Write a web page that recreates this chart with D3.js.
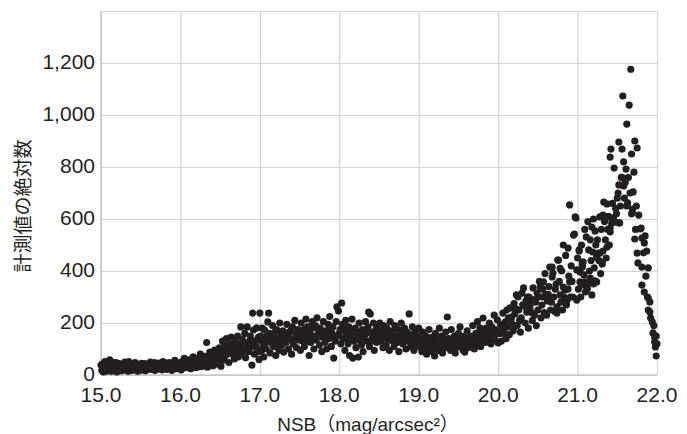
<!DOCTYPE html>
<html>
<head>
<meta charset="utf-8">
<script src="https://cdn.jsdelivr.net/npm/d3@7"></script>
<style>
  html, body { margin: 0; padding: 0; background: #fff; }
  svg { display: block; }
  .grid line { stroke: #d4d4d4; stroke-width: 1.2px; }
  .grid path { display: none; }
  .tick-label { font-family: "Liberation Sans", Arial, sans-serif; font-size: 21px; fill: #231f20; }
  .axis-title { font-family: "Liberation Sans", "Noto Sans CJK JP", sans-serif; fill: #231f20; }
</style>
</head>
<body>
<svg id="chart" width="687" height="434"></svg>
<script>
// --- data, [NSB, count] ---
const xTicks = [15, 16, 17, 18, 19, 20, 21, 22];
const yTicks = [0, 200, 400, 600, 800, 1000, 1200, 1400];
const yLabelTicks = [0, 200, 400, 600, 800, 1000, 1200];

const seg15 = [[15.00,38],[15.01,18],[15.02,28],[15.03,12],[15.04,45],[15.05,25],[15.06,35],[15.07,15],[15.08,50],[15.09,30],[15.10,22],[15.11,58],[15.12,40],[15.13,14],[15.14,33],[15.15,26],[15.16,48],[15.18,20],[15.19,36],[15.20,12],[15.21,30],[15.23,44],[15.24,24],[15.26,16],[15.27,38],[15.28,28],[15.30,50],[15.31,20],[15.33,34],[15.34,14],[15.36,42],[15.37,26],[15.39,18],[15.40,36],[15.42,30],[15.43,48],[15.45,22],[15.46,14],[15.48,38],[15.50,28],[15.51,45],[15.53,20],[15.54,32],[15.56,16],[15.57,40],[15.59,26],[15.60,34],[15.62,50],[15.63,22],[15.65,30],[15.66,42],[15.68,18],[15.69,36],[15.71,28],[15.72,46],[15.74,24],[15.75,34],[15.77,20],[15.78,52],[15.80,30],[15.81,40],[15.83,22],[15.84,36],[15.86,48],[15.87,28],[15.89,18],[15.90,42],[15.92,32],[15.93,56],[15.95,24],[15.96,38],[15.98,46],[15.99,30],
  [15.02,42],[15.05,52],[15.08,20],[15.12,28],[15.15,38],[15.19,48],[15.22,18],[15.25,32],[15.29,40],[15.32,26],[15.35,52],[15.38,32],[15.41,22],[15.44,40],[15.47,30],[15.49,18],[15.52,36],[15.55,44],[15.58,22],[15.61,40],[15.64,26],[15.67,48],[15.70,22],[15.73,38],[15.76,42],[15.79,26],[15.82,46],[15.85,32],[15.88,40],[15.91,24],[15.94,44],[15.97,34]];

const seg16 = [[16.01,20],[16.02,52],[16.04,38],[16.05,64],[16.07,28],[16.08,46],[16.10,34],[16.11,58],[16.13,24],[16.14,42],[16.16,70],[16.17,36],[16.19,50],[16.20,28],[16.22,62],[16.23,44],[16.25,80],[16.26,32],[16.28,56],[16.29,40],[16.31,72],[16.32,48],[16.33,125],[16.34,30],[16.35,60],[16.37,88],[16.38,44],[16.40,66],[16.41,36],[16.43,96],[16.44,54],[16.46,76],[16.47,42],[16.49,104],[16.50,62],[16.51,34],
  [16.03,42],[16.06,30],[16.09,56],[16.12,44],[16.15,30],[16.18,60],[16.21,40],[16.24,52],[16.27,68],[16.30,36],[16.33,54],[16.36,44],[16.39,78],[16.42,50],[16.45,66],[16.48,84],
  [16.52,90],[16.53,130],[16.54,58],[16.56,110],[16.57,75],[16.58,140],[16.60,96],[16.61,48],[16.62,120],[16.64,146],[16.65,80],[16.66,104],[16.68,62],[16.69,130],[16.70,92],[16.72,150],[16.73,70],[16.74,116],[16.76,185],[16.77,86],[16.78,136],[16.80,100],[16.81,160],[16.82,66],[16.84,185],[16.85,120],[16.86,90],[16.88,150],[16.89,108],[16.90,38],[16.91,238],[16.92,173],[16.93,80],[16.94,130],[16.96,181],[16.97,100],[16.98,145],[16.99,60],
  [16.55,70],[16.59,100],[16.63,88],[16.67,112],[16.71,78],[16.75,98],[16.79,125],[16.83,95],[16.87,130],[16.95,110],[16.98,90]];

const seg17 = [[17.00,238],[17.01,150],[17.02,95],[17.03,180],[17.04,120],[17.05,70],[17.06,173],[17.07,135],[17.08,100],[17.10,204],[17.11,238],[17.12,160],[17.13,85],[17.14,125],[17.16,190],[17.17,110],[17.18,150],[17.20,75],[17.21,175],[17.22,130],[17.24,95],[17.25,200],[17.26,145],[17.28,115],[17.29,170],[17.30,88],[17.32,155],[17.33,125],[17.34,195],[17.36,100],[17.37,165],[17.38,140],[17.40,80],[17.41,185],[17.42,120],[17.44,210],[17.45,150],[17.46,105],[17.48,175],[17.49,135],
  [17.50,160],[17.51,95],[17.52,200],[17.54,130],[17.55,175],[17.56,110],[17.58,215],[17.59,145],[17.60,185],[17.62,75],[17.63,165],[17.64,125],[17.66,205],[17.67,150],[17.68,100],[17.70,190],[17.71,135],[17.72,220],[17.74,160],[17.75,115],[17.76,180],[17.78,90],[17.79,145],[17.80,205],[17.82,125],[17.83,170],[17.84,100],[17.86,195],[17.87,140],[17.88,225],[17.90,110],[17.91,160],[17.92,185],[17.93,65],[17.95,130],[17.96,205],[17.97,262],[17.98,150],[17.99,246],
  [17.02,130],[17.06,115],[17.09,150],[17.15,140],[17.19,165],[17.23,110],[17.27,160],[17.31,130],[17.35,145],[17.39,170],[17.43,135],[17.47,160],[17.53,145],[17.57,165],[17.61,130],[17.65,180],[17.69,140],[17.73,175],[17.77,155],[17.81,165],[17.85,150],[17.89,175],[17.94,145]];

const seg18 = [[18.01,175],[18.02,120],[18.03,277],[18.04,195],[18.05,140],[18.07,95],[18.08,210],[18.09,160],[18.11,120],[18.12,185],[18.13,75],[18.15,150],[18.16,215],[18.17,65],[18.18,130],[18.20,180],[18.21,105],[18.22,160],[18.24,69],[18.25,200],[18.26,140],[18.28,115],[18.29,175],[18.30,90],[18.32,155],[18.33,205],[18.35,130],[18.36,185],[18.37,242],[18.38,110],[18.39,235],[18.40,165],[18.42,145],[18.43,200],[18.44,95],[18.46,175],[18.47,125],[18.48,190],[18.49,150],
  [18.51,200],[18.52,130],[18.54,170],[18.55,105],[18.56,190],[18.58,145],[18.59,115],[18.60,180],[18.62,155],[18.63,95],[18.64,205],[18.66,135],[18.67,170],[18.69,110],[18.70,190],[18.71,150],[18.73,125],[18.74,175],[18.75,90],[18.77,160],[18.78,200],[18.80,120],[18.81,145],[18.82,180],[18.84,100],[18.85,165],[18.86,130],[18.88,235],[18.89,155],[18.90,110],[18.92,185],[18.93,140],[18.94,95],[18.96,170],[18.97,120],[18.98,150],
  [18.00,160],[18.06,175],[18.10,140],[18.14,170],[18.19,150],[18.23,135],[18.27,165],[18.31,140],[18.34,160],[18.41,130],[18.45,155],[18.50,170],[18.53,150],[18.57,160],[18.61,135],[18.65,150],[18.68,130],[18.72,145],[18.76,140],[18.79,170],[18.83,140],[18.87,150],[18.91,135],[18.95,150],[18.99,130]];

const seg19 = [[19.00,180],[19.01,110],[19.02,140],[19.04,90],[19.05,165],[19.06,125],[19.08,100],[19.09,150],[19.10,80],[19.12,130],[19.13,175],[19.14,105],[19.16,145],[19.17,90],[19.18,120],[19.20,73],[19.21,160],[19.22,110],[19.24,135],[19.25,95],[19.26,180],[19.28,120],[19.29,150],[19.30,85],[19.32,130],[19.33,105],[19.34,165],[19.36,223],[19.37,115],[19.38,140],[19.40,95],[19.41,175],[19.42,125],[19.44,105],[19.45,150],[19.46,85],[19.48,108],[19.49,135],
  [19.50,160],[19.52,185],[19.53,110],[19.54,135],[19.56,95],[19.57,150],[19.58,88],[19.60,125],[19.61,170],[19.62,105],[19.64,140],[19.65,146],[19.66,115],[19.68,190],[19.69,130],[19.70,100],[19.72,160],[19.73,120],[19.74,205],[19.76,145],[19.77,181],[19.78,110],[19.80,135],[19.81,219],[19.82,160],[19.84,125],[19.85,180],[19.87,162],[19.88,140],[19.89,200],[19.91,120],[19.92,185],[19.93,155],[19.95,230],[19.96,135],[19.97,175],[19.99,212],[20.00,123],
  [19.03,120],[19.07,140],[19.11,115],[19.15,125],[19.19,140],[19.23,120],[19.27,105],[19.31,140],[19.35,120],[19.39,110],[19.43,135],[19.47,120],[19.51,125],[19.55,110],[19.59,140],[19.63,120],[19.67,150],[19.71,135],[19.75,125],[19.79,160],[19.83,145],[19.86,130],[19.90,165],[19.94,145],[19.98,160]];

const seg20 = [[20.02,160],[20.03,195],[20.04,130],[20.06,238],[20.07,175],[20.09,204],[20.10,140],[20.11,250],[20.12,185],[20.14,155],[20.15,258],[20.16,210],[20.17,223],[20.19,170],[20.20,275],[20.21,235],[20.23,308],[20.24,190],[20.25,300],[20.26,250],[20.28,165],[20.29,220],[20.30,315],[20.31,270],[20.32,335],[20.34,200],[20.35,285],[20.36,242],[20.38,180],[20.39,300],[20.40,260],[20.41,277],[20.43,210],[20.44,335],[20.45,290],[20.46,231],[20.48,190],[20.49,315],
  [20.50,250],[20.52,360],[20.53,338],[20.54,220],[20.55,269],[20.56,300],[20.57,358],[20.58,240],[20.59,390],[20.60,310],[20.61,230],[20.62,285],[20.64,340],[20.65,415],[20.65,288],[20.66,250],[20.68,377],[20.68,415],[20.69,392],[20.70,300],[20.71,245],[20.72,330],[20.74,262],[20.74,238],[20.75,442],[20.76,442],[20.77,360],[20.78,308],[20.79,280],[20.80,400],[20.81,250],[20.82,338],[20.82,500],[20.84,327],[20.85,460],[20.86,270],[20.87,288],[20.88,488],[20.89,380],[20.90,654],[20.90,358],[20.91,300],[20.92,420],[20.94,300],[20.95,538],[20.96,542],[20.97,608],[20.98,604],[20.99,404],[20.99,292],[20.99,288],
  [20.05,185],[20.08,160],[20.13,220],[20.18,195],[20.22,255],[20.27,210],[20.33,265],[20.37,300],[20.42,240],[20.47,280],[20.51,300],[20.56,330],[20.63,310],[20.67,280],[20.73,350],[20.78,410],[20.83,300],[20.88,330],[20.93,360]];

const seg21 = [[21.01,330],[21.02,477],[21.02,481],[21.03,396],[21.03,358],[21.04,300],[21.05,346],[21.06,423],[21.06,431],[21.06,415],[21.07,435],[21.08,385],[21.09,358],[21.10,320],[21.11,531],[21.12,335],[21.12,331],[21.13,354],[21.14,481],[21.15,400],[21.16,373],[21.17,440],[21.18,569],[21.18,308],[21.19,473],[21.20,350],[21.21,412],[21.22,554],[21.22,362],[21.24,454],[21.24,358],[21.25,520],[21.26,469],[21.28,608],[21.28,469],[21.29,390],[21.31,427],[21.31,431],[21.32,477],[21.32,615],[21.33,665],[21.35,520],[21.37,658],[21.37,492],[21.37,608],[21.38,560],
  [21.40,500],[21.41,565],[21.41,550],[21.41,838],[21.42,869],[21.43,585],[21.45,604],[21.46,796],[21.47,588],[21.48,640],[21.50,680],[21.51,700],[21.52,585],[21.52,731],[21.52,896],[21.53,585],[21.55,760],[21.56,869],[21.57,1073],[21.57,758],[21.58,727],[21.59,680],[21.60,740],[21.61,792],[21.62,965],[21.62,650],[21.63,662],[21.65,1038],[21.66,700],[21.67,1176],[21.68,620],[21.69,638],[21.69,627],[21.70,704],[21.72,900],[21.72,523],[21.73,560],[21.75,873],[21.75,469],[21.76,431],[21.77,615],[21.79,562],[21.80,565],[21.81,527],[21.81,415],[21.81,346],[21.83,470],[21.84,508],[21.84,319],[21.85,535],[21.86,380],[21.87,477],[21.88,300],[21.89,412],[21.89,296],[21.89,250],[21.91,281],[21.91,242],[21.92,219],[21.94,204],[21.95,162],[21.96,190],[21.97,146],[21.97,127],[21.98,108],[21.99,150],[21.99,73],[22.00,120],
  [21.00,450],[21.05,500],[21.09,560],[21.13,590],[21.16,520],[21.20,600],[21.23,500],[21.27,440],[21.30,560],[21.34,590],[21.36,450],[21.39,610],[21.44,660],[21.49,620],[21.54,650],[21.58,820],[21.64,760],[21.68,850],[21.71,780],[21.74,650]];

const points = [].concat(seg15, seg16, seg17, seg18, seg19, seg20, seg21);

const width = 687, height = 434;
const margin = { top: 11, right: 30, bottom: 59, left: 101 };
const svg = d3.select("#chart");

const x = d3.scaleLinear().domain([15, 22]).range([margin.left, width - margin.right]);
const y = d3.scaleLinear().domain([0, 1400]).range([height - margin.bottom, margin.top]);

// grid
svg.append("g").attr("class", "grid")
    .attr("transform", `translate(0,${margin.top})`)
    .call(d3.axisBottom(x).tickValues(xTicks).tickSize(y(0) - margin.top).tickFormat(""));
svg.append("g").attr("class", "grid")
    .attr("transform", `translate(${margin.left},0)`)
    .call(d3.axisRight(y).tickValues(yTicks).tickSize(x(22) - margin.left).tickFormat(""));

// axis lines a touch darker
svg.append("line").attr("x1", x(15)).attr("x2", x(15)).attr("y1", y(1400)).attr("y2", y(0))
    .style("stroke", "#c4c4c4").style("stroke-width", 1.4);
svg.append("line").attr("x1", x(15)).attr("x2", x(22)).attr("y1", y(0)).attr("y2", y(0))
    .style("stroke", "#c4c4c4").style("stroke-width", 1.4);

// tick labels
svg.selectAll(".ylab").data(yLabelTicks).enter().append("text")
    .attr("class", "tick-label")
    .attr("x", margin.left - 6)
    .attr("y", d => y(d) + 6)
    .attr("text-anchor", "end")
    .text(d => d3.format(",")(d));

svg.selectAll(".xlab").data(xTicks).enter().append("text")
    .attr("class", "tick-label")
    .attr("x", d => x(d))
    .attr("y", 402)
    .attr("text-anchor", "middle")
    .text(d => d.toFixed(1));

// points
svg.append("g").selectAll("circle").data(points).enter().append("circle")
    .attr("cx", d => x(d[0]))
    .attr("cy", d => y(d[1]))
    .attr("r", 3.6)
    .style("fill", "#231f20");

// titles
svg.append("text").attr("class", "axis-title")
    .attr("x", 368).attr("y", 431)
    .attr("text-anchor", "middle")
    .style("font-size", "19px")
    .text("NSB（mag/arcsec²）");

svg.append("text").attr("class", "axis-title")
    .attr("transform", "translate(30,206) rotate(-90)")
    .attr("text-anchor", "middle")
    .style("font-size", "19px")
    .text("計測値の絶対数");
</script>
</body>
</html>
